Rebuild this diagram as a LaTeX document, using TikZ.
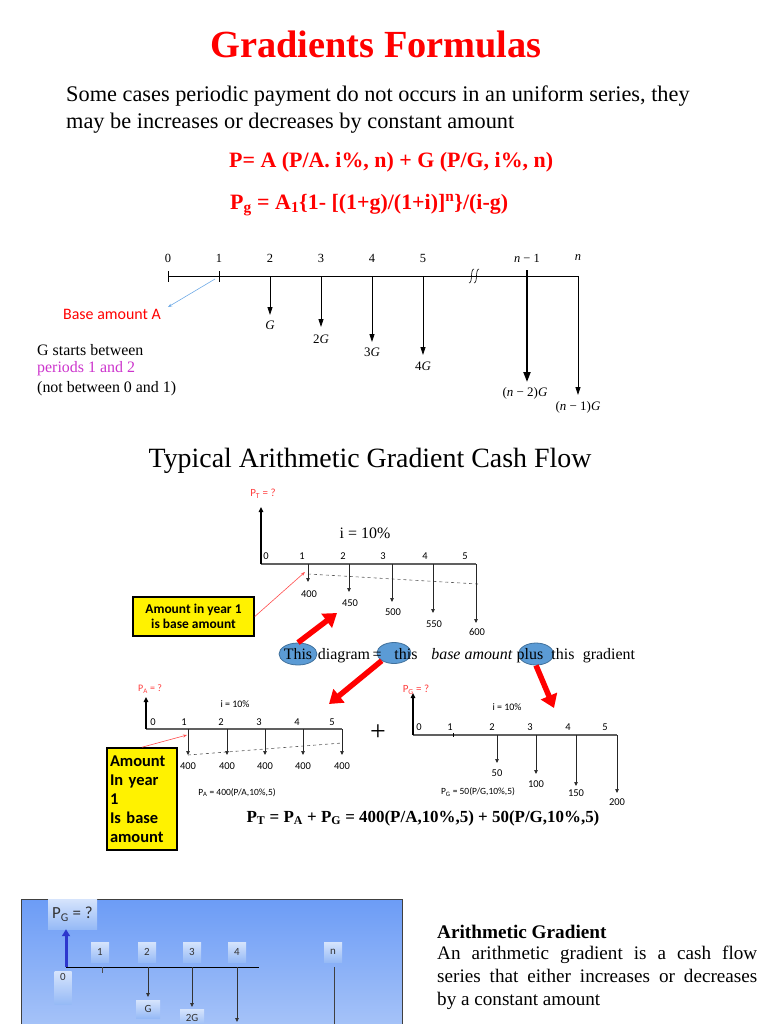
\documentclass[tikz,border=0pt]{standalone}
\usepackage{fontspec}
\setmainfont{Liberation Serif}
\newfontfamily\calfont{Carlito}
\usetikzlibrary{arrows.meta, positioning, calc, shapes.geometric}
\definecolor{clrTtl}{RGB}{255,  0,  0}
\definecolor{clrLbl}{RGB}{255, 60, 60}
\definecolor{clrMag}{RGB}{204, 51,204}
\definecolor{clrOv} {RGB}{ 91,155,213}
\definecolor{clrOvB}{RGB}{ 65,113,156}
\definecolor{clrLnk}{RGB}{110,170,230}
\definecolor{clrPnlT}{RGB}{108,156,246}
\definecolor{clrPnlB}{RGB}{172,199,248}
\definecolor{clrBoxT}{RGB}{214,228,252}
\definecolor{clrBoxB}{RGB}{150,186,246}
\definecolor{clrBlu}{RGB}{ 45, 55,205}
\newcommand{\fsz}[1]{\fontsize{#1}{#1}\selectfont}
\tikzset{
  ttl/.style={font=\fsz{38.5}\bfseries, text=clrTtl, inner sep=0pt},
  para/.style={font=\fsz{22.4}, inner sep=0pt, anchor=base west},
  frm/.style={font=\fsz{22}\bfseries, text=clrTtl, inner sep=0pt, anchor=west},
  tml/.style={font=\fsz{12.5}, inner sep=0pt},
  glbl/.style={font=\fsz{13}, inner sep=0pt},
  note/.style={font=\fsz{16}, inner sep=0pt, anchor=west},
  hdr/.style={font=\fsz{28}, inner sep=0pt},
  sml/.style={font=\calfont\fsz{10.5}, inner sep=0pt},
  plbl/.style={font=\calfont\fsz{11}, text=clrLbl, inner sep=0pt},
  word/.style={font=\fsz{16}, inner sep=0pt, anchor=base},
  ylw/.style={rectangle, draw=black, line width=1.6bp, fill=yellow,
    font=\calfont\bfseries, inner sep=0pt},
  ovl/.style={ellipse, draw=clrOvB, fill=clrOv, line width=0.8bp, inner sep=0pt},
  pnlbox/.style={rectangle, top color=clrBoxT, bottom color=clrBoxB,
    font=\calfont\fsz{11}, text=black!80, inner sep=0pt, minimum width=18bp, minimum height=20bp},
  axis/.style={line width=0.8bp, black},
  axisg/.style={line width=1.2bp, gray!75!black},
  dnarr/.style={-{Triangle[length=8bp,width=5bp]}, line width=0.8bp, black},
  smarr/.style={-{Triangle[length=4bp,width=3.5bp]}, line width=0.7bp, black!85},
  uparr/.style={-{Triangle[length=5bp,width=4.5bp]}, line width=1.8bp, black},
  bigarr/.style={-{Triangle[length=13bp,width=17bp]}, line width=5.5bp, red},
  thinred/.style={-{Stealth[length=4bp,width=3bp]}, line width=0.6bp, red!70},
  lnk/.style={-{Stealth[length=4bp,width=3bp]}, line width=0.6bp, clrLnk},
}
\begin{document}
\begin{tikzpicture}[x=1bp,y=-1bp]
\useasboundingbox (0,0) rectangle (768,1024);
% heading and formulas
\node[ttl] (ttl) at (376,44) {Gradients Formulas};
\node[para] (intro1) at (66,101) {Some cases periodic payment do not occurs in an uniform series, they};
\node[para] (intro2) at (66,128) {may be increases or decreases by constant amount};
\node[frm] (frm1) at (229,162) {P= A (P/A. i\%, n) + G (P/G, i\%, n)};
\node[frm] (frm2) at (230,205) {P\textsubscript{g} = A\textsubscript{1}\{1- [(1+g)/(1+i)]\textsuperscript{n}\}/(i-g)};

% general gradient time line
\coordinate (a0) at (168,276);
\coordinate (aN) at (578,276);
\draw[axis] (a0) -- (aN);
\foreach \k/\x in {0/168,1/219,2/270,3/321,4/372,5/423}
  \node[tml] (tk\k) at (\x,258) {\k};
\node[tml] (tkm) at (527,258) {\textit{n} − 1};
\node[tml] (tkn) at (578,258) {\textit{n}};
\draw[axis] (168,271) -- (168,282);
\draw[axis] (219,271) -- (219,282);
% break mark
\draw[line width=0.6bp] (469,283) .. controls (473,283) and (470,269) .. (474,269);
\draw[line width=0.6bp] (474,283) .. controls (478,283) and (475,269) .. (479,269);
% gradient arrows
\foreach \k/\x/\ty/\ly/\lab in {2/270/315/325/\textit{G}, 3/321/327/339/2\textit{G},
    4/372/342/352/3\textit{G}, 5/423/355/366/4\textit{G}, n/578/395/407/(\textit{n} − 1)\textit{G}}{
  \coordinate (gt\k) at (\x,276);
  \coordinate (gb\k) at (\x,\ty);
  \draw[dnarr] (gt\k) -- (gb\k);
  \node[glbl] (gl\k) at (\x,\ly) {\lab};
}
\coordinate (gtm) at (527,270);
\coordinate (gbm) at (527,382);
\draw[dnarr, line width=2bp, -{Triangle[length=10bp,width=7bp]}] (gtm) -- (gbm);
\node[glbl] (glm) at (525,393) {(\textit{n} − 2)\textit{G}};
% base amount note
\node[font=\calfont\fsz{16}, text=red, inner sep=0pt] (baseA) at (112,314) {Base amount A};
\coordinate (lk1) at (215,279);
\coordinate (lk2) at (168,307);
\draw[lnk] (lk1) -- (lk2);
\node[note] (gs1) at (37,350) {G starts between};
\node[note, text=clrMag] (gs2) at (37,369) {periods 1 and 2};
\node[note] (gs3) at (37,389) {(not between 0 and 1)};

% typical cash flow
\node[hdr] (hdr) at (370,461) {Typical Arithmetic Gradient Cash Flow};

% total diagram
\coordinate (pt0) at (261,564);
\coordinate (ptT) at (261,507);
\coordinate (pt5) at (476,564);
\draw[axisg] (pt0) -- (pt5);
\draw[uparr] (pt0) -- (ptT);
\node[plbl] (ptl) at (263,494) {P\textsubscript{T} = ?};
\node[font=\fsz{16}, inner sep=0pt] (ptI) at (365,533) {i = 10\%};
\foreach \k/\x in {0/266,1/302,2/343,3/383,4/425,5/465}
  \node[sml] (ptk\k) at (\x,556) {\k};
\draw[dashed, gray!70!black, line width=0.6bp] (308,574) -- (478,584);
\foreach \k/\x/\ty/\ly/\v in {1/308/582/594/400, 2/349/592/603/450, 3/392/602/612/500,
    4/433/613/624/550, 5/476/623/632/600}{
  \coordinate (pa\k) at (\x,564);
  \coordinate (pb\k) at (\x,\ty);
  \draw[smarr] (pa\k) -- (pb\k);
  \node[sml] (pv\k) at (\x+1,\ly) {\v};
}
\node[ylw, font=\calfont\bfseries\fsz{13.5}, align=center, minimum width=121bp, minimum height=39bp]
  (box1) at (193.5,616.5) {Amount in year 1\\[1bp]is base amount};
\coordinate (r1) at (305,572);
\draw[thinred] (box1.east) -- (r1);

% red pointers and sentence
\coordinate (tip1) at (337,613);
\coordinate (tip2) at (329,704);
\coordinate (tip3) at (554,708);
\node[ovl, minimum width=38bp, minimum height=22bp] (ovThis) at (298,654) {};
\node[ovl, minimum width=34bp, minimum height=21bp] (ovEq) at (394,653) {};
\node[ovl, minimum width=35bp, minimum height=22bp] (ovPlus) at (536,654) {};
\draw[bigarr] (ovThis.north) -- (tip1);
\draw[bigarr] (ovEq.south west) -- (tip2);
\draw[bigarr] (ovPlus.south) -- (tip3);
\node[word] (w1) at (298,659) {This};
\node[word] (w2) at (344,659) {diagram};
\node[word] (w3) at (377,659) {=};
\node[word] (w4) at (406,659) {this};
\node[word] (w5) at (472,659) {\textit{base amount}};
\node[word] (w6) at (530,659) {plus};
\node[word] (w7) at (563,659) {this};
\node[word] (w8) at (609,659) {gradient};

% base amount diagram
\coordinate (pA0) at (146,729);
\coordinate (pAT) at (146,697);
\coordinate (pA5) at (342,729);
\draw[axisg] (pA0) -- (pA5);
\draw[uparr] (pA0) -- (pAT);
\node[plbl, font=\calfont\fsz{10}] (pAl) at (150,689) {P\textsubscript{A} = ?};
\node[sml, font=\calfont\fsz{10}] (pAI) at (235,704) {i = 10\%};
\foreach \k/\x in {0/153,1/184,2/221,3/259,4/297,5/332}
  \node[sml] (pAk\k) at (\x,722) {\k};
\draw[dashed, gray!70!black, line width=0.6bp] (188,755) -- (342,743);
\foreach \k/\x in {1/188,2/227,3/265,4/303,5/342}{
  \coordinate (qa\k) at (\x,729);
  \coordinate (qb\k) at (\x,755);
  \draw[smarr] (qa\k) -- (qb\k);
  \node[sml] (qv\k) at (\x,766) {400};
}
\node[sml, font=\calfont\fsz{9.5}] (pAf) at (237,793) {P\textsubscript{A} = 400(P/A,10\%,5)};
\node[ylw, font=\calfont\bfseries\fontsize{16.5}{19.2}\selectfont, align=left, text width=64bp, minimum width=70bp,
  minimum height=102bp, inner xsep=3bp] (box2) at (142,799)
  {Amount\\In year\\1\\Is base\\amount};
\coordinate (r2) at (187,735);
\draw[thinred] (box2.north) -- (r2);
\node[font=\fsz{28}, inner sep=0pt] (plus) at (378,733) {+};

% gradient diagram
\coordinate (pG0) at (413,735);
\coordinate (pGT) at (413,693);
\coordinate (pG5) at (617,735);
\draw[axisg] (pG0) -- (pG5);
\draw[uparr] (pG0) -- (pGT);
\node[plbl] (pGl) at (416,690) {P\textsubscript{G} = ?};
\node[sml, font=\calfont\fsz{10}] (pGI) at (507,707) {i = 10\%};
\foreach \k/\x in {0/419,1/450,2/492,3/530,4/568,5/605}
  \node[sml] (pGk\k) at (\x,727) {\k};
\draw[axis] (453,733) -- (453,737);
\foreach \k/\x/\ty/\ly/\v in {2/497/763/773/50, 3/536/774/784/100, 4/576/786/793/150, 5/617/793/802/200}{
  \coordinate (ga\k) at (\x,735);
  \coordinate (gb2\k) at (\x,\ty);
  \draw[smarr] (ga\k) -- (gb2\k);
  \node[sml] (gv\k) at (\x,\ly) {\v};
}
\node[sml, font=\calfont\fsz{9.5}] (pGf) at (478,792) {P\textsubscript{G} = 50(P/G,10\%,5)};

% total formula
\node[font=\fsz{17}\bfseries, inner sep=0pt] (tot) at (423,818)
  {P\textsubscript{T} = P\textsubscript{A} + P\textsubscript{G} = 400(P/A,10\%,5) + 50(P/G,10\%,5)};

% bottom panel
\shade[top color=clrPnlT, bottom color=clrPnlB] (21,899) rectangle (402,1040);
\draw[gray!50!black, line width=1bp] (21,1040) -- (21,899) -- (402,899) -- (402,1040);
\node[pnlbox, font=\calfont\fsz{17}, minimum width=49bp, minimum height=30bp] (bPG) at (72.5,914) {P\textsubscript{G} = ?};
\coordinate (b0) at (66,967);
\coordinate (bE) at (259,967);
\draw[-{Triangle[length=7bp,width=8bp]}, line width=3bp, clrBlu] (b0) -- (bPG.south -| b0);
\draw[line width=0.9bp, black] (b0) -- (bE);
\foreach \k/\x in {1/100,2/147,3/192,4/237,n/333}
  \node[pnlbox] (bk\k) at (\x,952) {\k};
\node[pnlbox, anchor=north, text depth=22bp, minimum height=33bp, minimum width=17bp] (bk0) at (63,971) {0};
\draw[gray!60!black, line width=0.6bp] (102,967) -- (102,973);
\foreach \k/\x/\ty/\ly/\lab in {2/148/997/1009/G, 3/192/1007/1018/2G}{
  \coordinate (bt\k) at (\x,967);
  \coordinate (bb\k) at (\x,\ty);
  \draw[-{Triangle[length=4bp,width=3.5bp]}, line width=0.8bp, gray!40!black] (bt\k) -- (bb\k);
  \node[pnlbox, minimum width=24bp, minimum height=18bp] (bl\k) at (\x,\ly) {\lab};
}
\coordinate (bt4) at (237,967);
\coordinate (bb4) at (237,1022);
\draw[-{Triangle[length=4bp,width=3.5bp]}, line width=0.8bp, gray!40!black] (bt4) -- (bb4);
\node[pnlbox, minimum width=24bp, minimum height=18bp] (bl4) at (237,1033) {};
\coordinate (btn) at (334,967);
\coordinate (bbn) at (334,1040);
\draw[line width=0.8bp, gray!50!black] (btn) -- (bbn);

% side text
\node[font=\fsz{19.3}\bfseries, inner sep=0pt, anchor=west] (agH) at (437,932) {Arithmetic Gradient};
\node[font=\fontsize{19.2}{23}\selectfont, inner sep=0pt, anchor=north west, text width=320bp, align=justify] (agT) at (437,946)
  {\hyphenpenalty=10000 An arithmetic gradient is a cash flow\linebreak
   series that either increases or decreases\linebreak by a constant amount};
\end{tikzpicture}
\end{document}
